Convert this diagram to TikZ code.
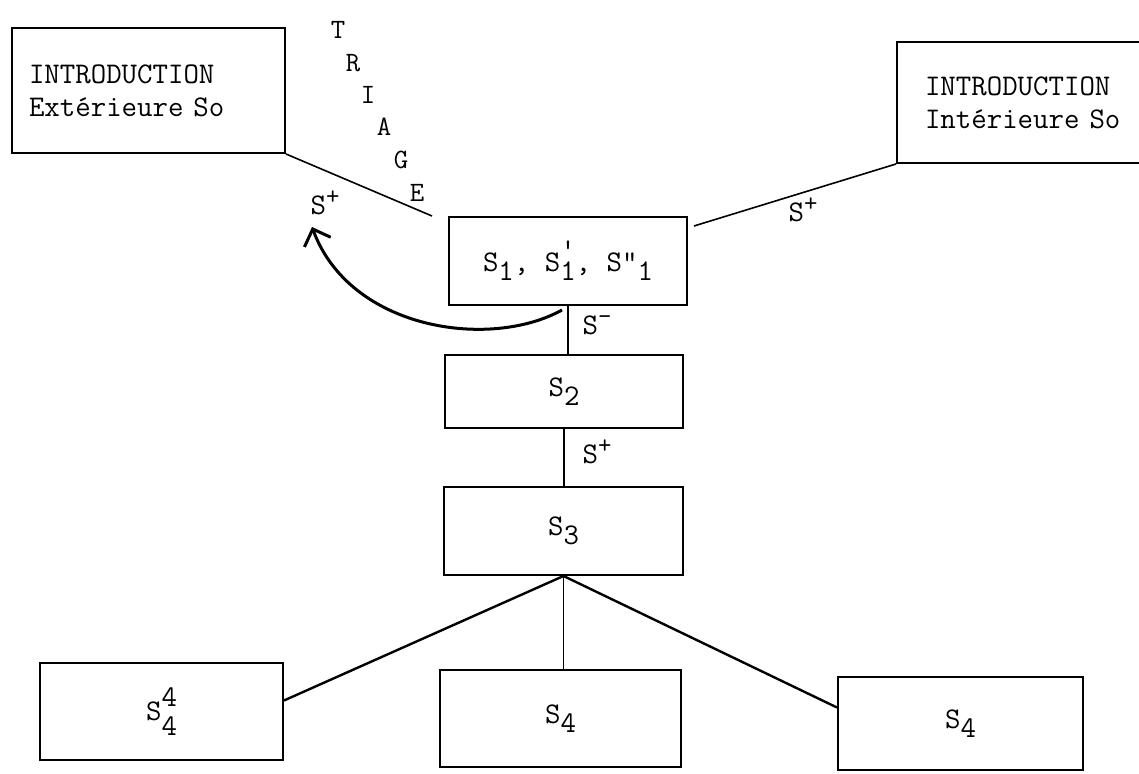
\documentclass[tikz,border=0pt]{standalone}
\usetikzlibrary{arrows.meta}

% typewriter indices: full-size digits set lower / higher
\newcommand{\tlo}[1]{\raisebox{-0.7ex}{#1}}
\newcommand{\thi}[1]{\raisebox{0.8ex}{\fontsize{13}{14}\selectfont #1}}

\begin{document}
\begin{tikzpicture}[x=0.5pt, y=-0.5pt,
    every node/.style={font=\ttfamily\fontsize{15}{16.5}\selectfont},
    bloc/.style={draw, line width=1pt, inner sep=0pt},
    lien/.style={line width=0.8pt},
    brin/.style={line width=1.2pt}]
  % canvas 1139 x 774 px, 1 px = 0.5 pt, y grows downwards
  \useasboundingbox (0,0) rectangle (1139,774);
  \clip (0,0) rectangle (1139,774);

  % ── the two introductions ──
  \node[bloc, minimum width=136.5pt, minimum height=62.5pt, text width=119.5pt,
        align=left] (ext) at (148.5,90.5) {\raisebox{-3pt}{INTRODUCTION}\\\raisebox{-3pt}{Ext\'erieure So}};
  \node[bloc, minimum width=126.5pt, minimum height=60.5pt, text width=98.5pt,
        align=left] (intr) at (1023.5,102.5) {\raisebox{-3.5pt}{INTRODUCTION}\\\raisebox{-3.5pt}{Int\'erieure So}};

  % ── central column ──
  \node[bloc, minimum width=119pt, minimum height=44pt] (s1) at (568,261)
    {S\tlo{1}, S\rlap{\raisebox{0.9ex}{'}}\tlo{1}, S"\tlo{1}};
  \node[bloc, minimum width=119pt, minimum height=36.5pt] (s2) at (564,391.5) {S\tlo{2}};
  \node[bloc, minimum width=119.5pt, minimum height=44pt] (s3) at (563.5,531) {S\tlo{3}};

  % ── bottom row ──
  \node[bloc, minimum width=121.5pt, minimum height=48.5pt] (s4a) at (161.5,711.5)
    {S\rlap{\raisebox{1.1ex}{4}}\raisebox{-1.1ex}{4}};
  \node[bloc, minimum width=120.5pt, minimum height=48.5pt] (s4b) at (560.5,718.5) {S\tlo{4}};
  \node[bloc, minimum width=122.5pt, minimum height=46.5pt] (s4c) at (960.5,723.5) {S\tlo{4}};

  % ── links ──
  \draw[lien] (ext.south east) -- ([xshift=-8pt]s1.north west);
  \draw[lien] (intr.south west) -- ([xshift=3pt,yshift=-5pt]s1.north east);
  \draw[lien] (s1.south) -- (s1.south |- s2.north);
  \draw[lien] (s2.south) -- (s2.south |- s3.north);
  \draw[brin] (s3.south) -- ([yshift=5.5pt]s4a.east);
  \draw[lien] (s3.south) -- (s3.south |- s4b.north);
  \draw[brin] (s3.south) -- ([yshift=8pt]s4c.west);

  % return arrow S1 -> S+
  \coordinate (retour) at (312,227);
  \draw[line width=1.5pt, -{Straight Barb[length=7pt,width=14pt]}]
    ([xshift=-3pt,yshift=-2pt]s1.south) .. controls (490,350) and (350,330) .. (retour);

  % ── labels ──
  \node (splusg) at (325,203) {S\thi{+}};
  \node (splusd) at (803,210) {S\thi{+}};
  \node (smoins) at (597,325) {S\thi{-}};
  \node (splusm) at (597,452) {S\thi{+}};

  % TRIAGE, one letter per line along the slope
  \foreach \c/\x/\y [count=\i] in {T/338/30, R/353/63, I/368/95, A/384/127, G/401/160, E/417/193}{
    \node[font=\ttfamily\fontsize{14}{15}\selectfont] (tri\i) at (\x,\y) {\c}; }
\end{tikzpicture}
\end{document}
